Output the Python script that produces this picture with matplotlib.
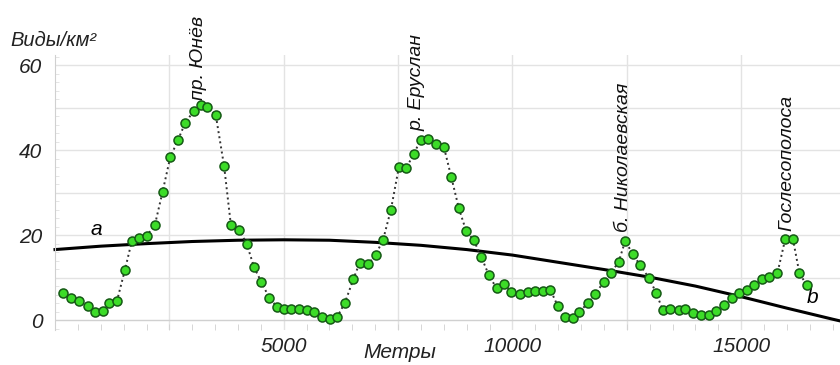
import matplotlib
matplotlib.use("Agg")
from matplotlib import pyplot as plt
from matplotlib.ticker import MultipleLocator

plt.rcParams['font.family'] = ['Liberation Sans', 'DejaVu Sans']

# точки профиля: метры / виды на км2
metres = [181, 350, 531, 713, 880, 1041, 1186, 1354, 1528, 1681, 1841, 2002, 2183, 2351,
          2518, 2692, 2840, 3028, 3188, 3333, 3515, 3697, 3843, 4025, 4192, 4352, 4513,
          4680, 4862, 5007, 5153, 5334, 5502, 5662, 5830, 6004, 6172, 6338, 6521, 6659,
          6849, 7009, 7169, 7343, 7518, 7679, 7845, 7991, 8150, 8330, 8500, 8662, 8828,
          8990, 9155, 9317, 9483, 9651, 9811, 9978, 10160, 10334, 10502, 10670, 10830,
          10990, 11157, 11317, 11463, 11644, 11812, 11993, 12155, 12321, 12467, 12627,
          12795, 12976, 13144, 13282, 13450, 13631, 13780, 13945, 14120, 14286, 14454,
          14629, 14797, 14963, 15124, 15284, 15452, 15618, 15793, 15961, 16129, 16273,
          16434]
species = [6.4, 5.1, 4.5, 3.3, 2.0, 2.2, 3.9, 4.5, 11.8, 18.7, 19.4, 19.8, 22.4, 30.2,
           38.3, 42.5, 46.3, 49.2, 50.6, 50.2, 48.2, 36.2, 22.5, 21.3, 17.9, 12.4, 8.9,
           5.3, 3.0, 2.7, 2.6, 2.5, 2.4, 2.0, 0.8, 0.2, 0.8, 4.1, 9.6, 13.5,
           13.2, 15.4, 18.8, 26.0, 36.1, 35.9, 39.1, 42.5, 42.6, 41.4, 40.8, 33.7, 26.3,
           20.9, 18.8, 14.9, 10.6, 7.5, 8.4, 6.7, 6.1, 6.7, 6.8, 6.8, 7.1,
           3.3, 0.8, 0.5, 2.0, 3.9, 6.1, 9.0, 11.1, 13.7, 18.7, 15.5,
           12.9, 10.0, 6.4, 2.4, 2.5, 2.4, 2.5, 1.7, 1.3, 1.2, 2.2,
           3.5, 5.3, 6.3, 7.1, 8.2, 9.6, 10.2, 11.1, 19.0, 19.2, 11.0,
           8.2]

# линия тренда a-b
trend_x = [0, 1000, 2000, 3000, 4000, 5000, 6000, 7000, 8000, 9000, 10000, 11000,
           12000, 13000, 14000, 15000, 16000, 17000, 17160]
trend_y = [16.6, 17.4, 18.0, 18.5, 18.8, 18.9, 18.8, 18.3, 17.6, 16.6, 15.3, 13.6,
           11.9, 10.1, 8.0, 5.5, 2.8, 0.2, -0.2]

places = ['пр. Юнёв', 'р. Еруслан', 'б. Николаевская', 'Гослесополоса']
place_x = [3130, 7910, 12420, 15990]
place_y = [51.8, 44.5, 20.8, 21.0]

fig = plt.figure(figsize=(8.4, 3.65), dpi=100)
ax = fig.add_axes([0.0655, 0.0964, 0.9345, 0.7526])

ax.set_xlim(0, 17160)
ax.set_ylim(-2.3, 62.4)

ax.xaxis.set_major_locator(MultipleLocator(5000))
ax.xaxis.set_minor_locator(MultipleLocator(500))
ax.yaxis.set_major_locator(MultipleLocator(20))
ax.yaxis.set_minor_locator(MultipleLocator(2))

for gx in range(2500, 17160, 2500):
    ax.axvline(gx, color='#e3e3e3', lw=1.0, zorder=0)
for gy in range(10, 61, 10):
    ax.axhline(gy, color='#e3e3e3', lw=1.0, zorder=0)
ax.axhline(0, color='#d0d0d0', lw=1.0, zorder=0)

for s in ['top', 'right', 'bottom']:
    ax.spines[s].set_visible(False)
ax.spines['left'].set_color('#d0d0d0')

ax.tick_params(axis='x', which='major', length=0, pad=5, labelsize=15)
ax.tick_params(axis='x', which='minor', direction='in', length=4, color='#d0d0d0')
ax.tick_params(axis='y', which='major', length=0, pad=9, labelsize=15)
ax.tick_params(axis='y', which='minor', direction='in', length=3, color='#e0e0e0')
ax.set_xticks([5000, 10000, 15000])
ax.set_yticks([0, 20, 40, 60])
for lab in ax.get_xticklabels() + ax.get_yticklabels():
    lab.set_fontstyle('italic')
    lab.set_color('#222222')

ax.plot(trend_x, trend_y, color='black', lw=2.2, zorder=2, clip_on=False)
ax.plot(metres, species, ls=':', color='#333333', lw=1.4, zorder=3)
ax.plot(metres, species, ls='none', marker='o', ms=6.5, mfc='#3cdc28', mec='#155a15',
        mew=1.1, zorder=4)

for name, px, py in zip(places, place_x, place_y):
    ax.text(px, py, name, rotation=90, ha='center', va='bottom', fontsize=14,
            fontstyle='italic', color='#111111')

ax.text(900, 19.2, 'a', fontsize=15, fontstyle='italic', ha='center', va='bottom')
ax.text(16550, 3.0, 'b', fontsize=15, fontstyle='italic', ha='center', va='bottom')

fig.text(0.012, 0.89, 'Виды/км²', fontsize=14.5, fontstyle='italic', color='#222222',
         ha='left', va='center')
fig.text(0.476, 0.035, 'Метры', fontsize=15, fontstyle='italic', color='#222222',
         ha='center', va='center')

fig.savefig('out.png', dpi=100)
